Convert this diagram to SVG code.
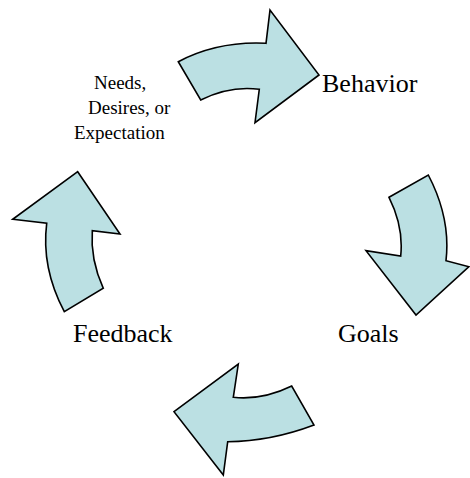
<svg xmlns="http://www.w3.org/2000/svg" width="470" height="478" viewBox="0 0 470 478">
<style>
.arrow{fill:#BBE0E3;stroke:#000;stroke-width:1.6;stroke-linejoin:miter}
.lbl{font-family:"Liberation Serif","Times New Roman",serif;fill:#000}
.big{font-size:26px}
.small{font-size:19px}
</style>
<rect width="470" height="478" fill="#fff"/>
<g id="connectors">
<path id="arrow-top" class="arrow" d="M178.3,61.7 Q217.9,40.9 266,43.3 L270,10 L319,75 L255,122.7 L259.3,89.3 Q230,85.4 200.7,100 Z"/>
<path id="arrow-right" class="arrow" d="M389,197.3 L428.3,175 Q450.9,218.2 446,260.7 L469,266.7 L416,315 L366,250.7 L400.7,256 Q403.8,226.7 389,197.3 Z"/>
<path id="arrow-bottom" class="arrow" d="M238.3,364 L233.3,397.3 Q262.5,400.4 291.7,386 L314,425 Q270.9,441.3 227.7,441.7 L223.3,475 L174,411.7 Z"/>
<path id="arrow-left" class="arrow" d="M77.7,171.7 L120,234 L92.3,230.7 Q90.2,259.5 103.3,288.3 L64.3,311.7 Q41.1,267.5 46.7,223.3 L12.7,219.3 Z"/>
</g>
<g id="node-needs">
<text class="lbl small" x="94" y="89">Needs,</text>
<text class="lbl small" x="88" y="114">Desires, or</text>
<text class="lbl small" x="74" y="139">Expectation</text>
</g>
<g id="node-behavior"><text class="lbl big" x="322" y="92">Behavior</text></g>
<g id="node-goals"><text class="lbl big" x="338" y="342">Goals</text></g>
<g id="node-feedback"><text class="lbl big" x="73" y="342">Feedback</text></g>
</svg>
